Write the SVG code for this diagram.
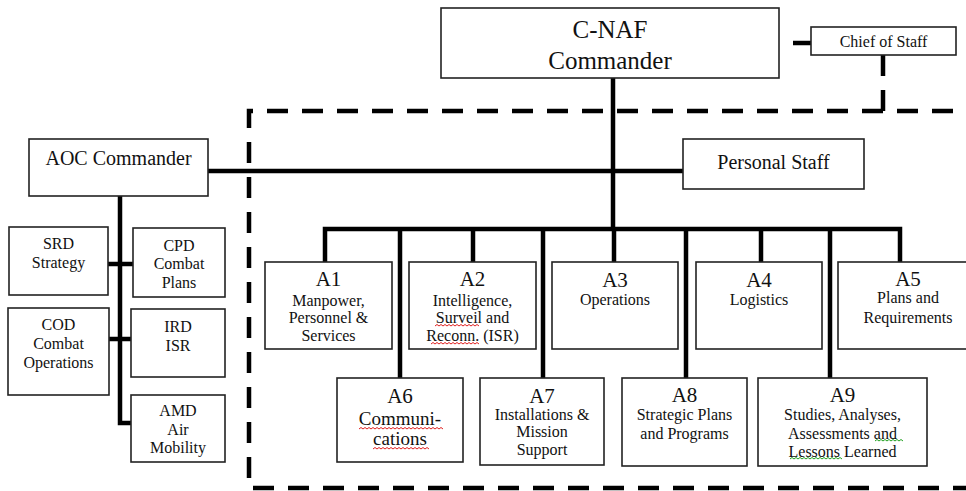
<svg xmlns="http://www.w3.org/2000/svg" width="966" height="491" viewBox="0 0 966 491">
<style>
.box{fill:#fff;stroke:#222;stroke-width:1.6}
.ln{fill:none;stroke:#000;stroke-width:4.5;stroke-linejoin:miter}
.dash{fill:none;stroke:#000;stroke-width:4.5;stroke-dasharray:21 14}
text{font-family:'Liberation Serif','Times New Roman','DejaVu Serif','Noto Serif',serif;fill:#111;text-anchor:middle}
.big{font-size:25px}
.hd{font-size:20px}
.lab{font-size:21px}
.sm{font-size:16px}
.md{font-size:19px}
.sq{fill:none;stroke:#e02020;stroke-width:1}
.sg{fill:none;stroke:#20a020;stroke-width:1}
</style>
<rect width="966" height="491" fill="#fff"/>
<g id="connectors">
<path class="dash" d="M883 111 H249 V488 H966"/>
<path class="dash" d="M883 55 V111 H966"/>
<path class="ln" d="M793 43 H811"/>
<path class="ln" d="M208 171 H683"/>
<path class="ln" d="M613 78 V229"/>
<path class="ln" d="M325 262 V229 H900 V262"/>
<path class="ln" d="M473 229 V262"/>
<path class="ln" d="M614 229 V262"/>
<path class="ln" d="M761 229 V262"/>
<path class="ln" d="M400 229 V378"/>
<path class="ln" d="M543 229 V378"/>
<path class="ln" d="M686 229 V378"/>
<path class="ln" d="M830 229 V378"/>
<path class="ln" d="M120 196 V423 H131"/>
<path class="ln" d="M108 264 H133"/>
<path class="ln" d="M109 339 H131"/>
</g>
<g font-family="Liberation Serif, Times New Roman, serif">
<g id="cnaf"><rect class="box" x="441" y="8" width="338" height="70"/><text class="big" x="610" y="38">C-NAF</text><text class="big" x="610" y="69">Commander</text></g>
<g id="chief"><rect class="box" x="811" y="27" width="145" height="28"/><text class="sm" x="883.5" y="47">Chief of Staff</text></g>
<g id="aoc"><rect class="box" x="29" y="139" width="179" height="57"/><text class="hd" x="118.5" y="165">AOC Commander</text></g>
<g id="personal"><rect class="box" x="683" y="139" width="181" height="50"/><text class="hd" x="773.5" y="169">Personal Staff</text></g>
<g id="srd"><rect class="box" x="9" y="227" width="99" height="68"/><text class="sm" x="58.5" y="249">SRD</text><text class="sm" x="58.5" y="268">Strategy</text></g>
<g id="cpd"><rect class="box" x="133" y="228" width="92" height="69"/><text class="sm" x="179" y="251">CPD</text><text class="sm" x="179" y="269">Combat</text><text class="sm" x="179" y="288">Plans</text></g>
<g id="cod"><rect class="box" x="8" y="308" width="101" height="87"/><text class="sm" x="58.5" y="330">COD</text><text class="sm" x="58.5" y="349">Combat</text><text class="sm" x="58.5" y="368">Operations</text></g>
<g id="ird"><rect class="box" x="131" y="309" width="94" height="68"/><text class="sm" x="178" y="332">IRD</text><text class="sm" x="178" y="351">ISR</text></g>
<g id="amd"><rect class="box" x="131" y="395" width="94" height="67"/><text class="sm" x="178" y="416">AMD</text><text class="sm" x="178" y="435">Air</text><text class="sm" x="178" y="453">Mobility</text></g>
<g id="a1"><rect class="box" x="265" y="262" width="127" height="87"/><text class="lab" x="328.5" y="286">A1</text><text class="sm" x="328.5" y="306">Manpower,</text><text class="sm" x="328.5" y="323">Personnel &amp;</text><text class="sm" x="328.5" y="341">Services</text></g>
<g id="a2"><rect class="box" x="409" y="262" width="127" height="87"/><text class="lab" x="472.5" y="286">A2</text><text class="sm" x="472.5" y="306">Intelligence,</text><text class="sm" x="472.5" y="323">Surveil and</text><text class="sm" x="472.5" y="341">Reconn. (ISR)</text>
<path class="sq" d="M435 326 l2 -1.5 l2 1.5 l2 -1.5 l2 1.5 l2 -1.5 l2 1.5 l2 -1.5 l2 1.5 l2 -1.5 l2 1.5 l2 -1.5 l2 1.5 l2 -1.5 l2 1.5 l2 -1.5 l2 1.5 l2 -1.5 l2 1.5 l2 -1.5 l2 1.5 l2 -1.5 l2 1.5"/>
<path class="sq" d="M431 344 l2 -1.5 l2 1.5 l2 -1.5 l2 1.5 l2 -1.5 l2 1.5 l2 -1.5 l2 1.5 l2 -1.5 l2 1.5 l2 -1.5 l2 1.5 l2 -1.5 l2 1.5 l2 -1.5 l2 1.5 l2 -1.5 l2 1.5 l2 -1.5 l2 1.5 l2 -1.5 l2 1.5 l2 -1.5 l2 1.5"/></g>
<g id="a3"><rect class="box" x="552" y="262" width="126" height="87"/><text class="lab" x="615" y="287">A3</text><text class="sm" x="615" y="305">Operations</text></g>
<g id="a4"><rect class="box" x="696" y="262" width="126" height="87"/><text class="lab" x="759" y="287">A4</text><text class="sm" x="759" y="305">Logistics</text></g>
<g id="a5"><rect class="box" x="838" y="262" width="140" height="87"/><text class="lab" x="908" y="286">A5</text><text class="sm" x="908" y="303">Plans and</text><text class="sm" x="908" y="323">Requirements</text></g>
<g id="a6"><rect class="box" x="337" y="378" width="126" height="84"/><text class="lab" x="400" y="403">A6</text><text class="md" x="400" y="425">Communi-</text><text class="md" x="400" y="445">cations</text>
<path class="sq" d="M359 429 l2 -1.5 l2 1.5 l2 -1.5 l2 1.5 l2 -1.5 l2 1.5 l2 -1.5 l2 1.5 l2 -1.5 l2 1.5 l2 -1.5 l2 1.5 l2 -1.5 l2 1.5 l2 -1.5 l2 1.5 l2 -1.5 l2 1.5 l2 -1.5 l2 1.5 l2 -1.5 l2 1.5 l2 -1.5 l2 1.5 l2 -1.5 l2 1.5 l2 -1.5 l2 1.5 l2 -1.5 l2 1.5 l2 -1.5 l2 1.5 l2 -1.5 l2 1.5 l2 -1.5 l2 1.5 l2 -1.5 l2 1.5 l2 -1.5 l2 1.5 l2 -1.5 l2 1.5"/>
<path class="sq" d="M373 449 l2 -1.5 l2 1.5 l2 -1.5 l2 1.5 l2 -1.5 l2 1.5 l2 -1.5 l2 1.5 l2 -1.5 l2 1.5 l2 -1.5 l2 1.5 l2 -1.5 l2 1.5 l2 -1.5 l2 1.5 l2 -1.5 l2 1.5 l2 -1.5 l2 1.5 l2 -1.5 l2 1.5 l2 -1.5 l2 1.5 l2 -1.5 l2 1.5 l2 -1.5 l2 1.5"/></g>
<g id="a7"><rect class="box" x="480" y="378" width="124" height="87"/><text class="lab" x="542" y="403">A7</text><text class="sm" x="542" y="420">Installations &amp;</text><text class="sm" x="542" y="437">Mission</text><text class="sm" x="542" y="455">Support</text></g>
<g id="a8"><rect class="box" x="622" y="378" width="125" height="88"/><text class="lab" x="684.5" y="402">A8</text><text class="sm" x="684.5" y="420">Strategic Plans</text><text class="sm" x="684.5" y="439">and Programs</text></g>
<g id="a9"><rect class="box" x="758" y="378" width="169" height="88"/><text class="lab" x="842.5" y="402">A9</text><text class="sm" x="842.5" y="420">Studies, Analyses,</text><text class="sm" x="842.5" y="439">Assessments and</text><text class="sm" x="842.5" y="457">Lessons Learned</text>
<path class="sg" d="M875 441 l2 -1.5 l2 1.5 l2 -1.5 l2 1.5 l2 -1.5 l2 1.5 l2 -1.5 l2 1.5 l2 -1.5 l2 1.5 l2 -1.5 l2 1.5 l2 -1.5 l2 1.5"/>
<path class="sg" d="M790 459 l2 -1.5 l2 1.5 l2 -1.5 l2 1.5 l2 -1.5 l2 1.5 l2 -1.5 l2 1.5 l2 -1.5 l2 1.5 l2 -1.5 l2 1.5 l2 -1.5 l2 1.5 l2 -1.5 l2 1.5 l2 -1.5 l2 1.5 l2 -1.5 l2 1.5 l2 -1.5 l2 1.5 l2 -1.5 l2 1.5 l2 -1.5 l2 1.5"/></g>
</g>
</svg>
